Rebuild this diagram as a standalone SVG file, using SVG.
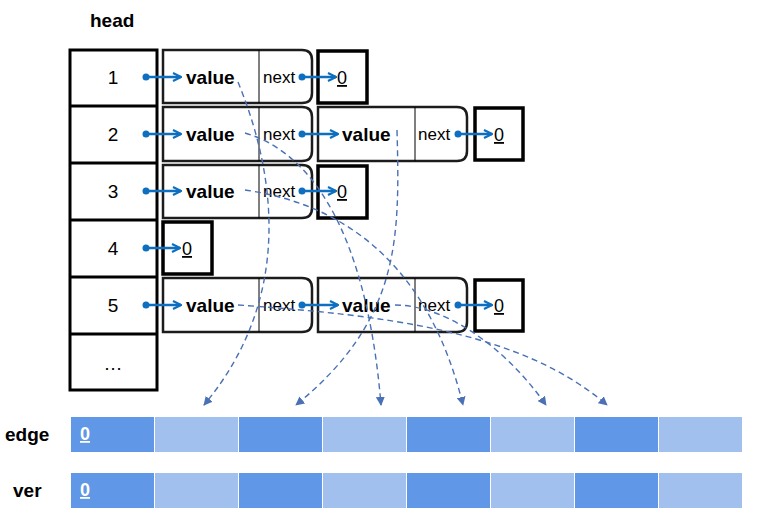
<svg xmlns="http://www.w3.org/2000/svg" width="766" height="529" viewBox="0 0 766 529">
<defs>
<marker id="bl" viewBox="0 0 10 10" refX="9" refY="5" markerWidth="10" markerHeight="10" markerUnits="userSpaceOnUse" orient="auto">
<path d="M1,1 L9,5 L1,9" fill="none" stroke="#0E6FC0" stroke-width="2.2"/>
</marker>
<marker id="da" viewBox="0 0 10 10" refX="9" refY="5" markerWidth="9" markerHeight="9" markerUnits="userSpaceOnUse" orient="auto">
<path d="M0,0 L10,5 L0,10 Z" fill="#4A70B5"/>
</marker>
</defs>
<style>
text{font-family:"Liberation Sans",Arial,sans-serif}
.num{font-size:19px;fill:#000;text-anchor:middle}
.val{font-size:19px;font-weight:bold;fill:#000}
.nx{font-size:17px;fill:#000}
.z{font-size:18px;fill:#000;text-decoration:underline}
.lbl{font-size:19px;font-weight:bold;fill:#000}
.node{fill:#fff;stroke:#1c1c1c;stroke-width:2.5}
.zb{fill:#fff;stroke:#000;stroke-width:3.5}
.div{stroke:#000;stroke-width:1}
.hd{fill:#fff;stroke:#000;stroke-width:3}
.ptr{stroke:#0E6FC0;stroke-width:2.5;fill:none;marker-end:url(#bl)}
.dot{fill:#0E6FC0}
.dash{fill:none;stroke:#4A70B5;stroke-width:1.4;stroke-dasharray:6,4;marker-end:url(#da)}
.dk{fill:#6097E6}
.lt{fill:#A1C0EE}
.w{font-size:18px;font-weight:bold;fill:#fff;text-decoration:underline}
</style>
<rect width="766" height="529" fill="#fff"/>
<text class="lbl" x="90" y="27">head</text>
<g id="head">
<rect class="hd" x="70" y="50" width="87" height="340"/>
<line class="hd" x1="70" y1="106" x2="157" y2="106"/>
<line class="hd" x1="70" y1="163" x2="157" y2="163"/>
<line class="hd" x1="70" y1="220" x2="157" y2="220"/>
<line class="hd" x1="70" y1="277" x2="157" y2="277"/>
<line class="hd" x1="70" y1="334" x2="157" y2="334"/>
<text class="num" x="113" y="84">1</text>
<text class="num" x="113" y="141">2</text>
<text class="num" x="113" y="198">3</text>
<text class="num" x="113" y="255">4</text>
<text class="num" x="113" y="312">5</text>
<text class="num" x="113" y="370">…</text>
</g>
<g id="n1">
<path class="node" d="M163,50 H302 Q312,50 312,60 V93 Q312,103 302,103 H163 Z"/>
<line class="div" x1="259" y1="50" x2="259" y2="103"/>
<text class="val" x="186" y="84">value</text>
<text class="nx" x="263" y="83">next</text>
</g>
<g id="z1"><rect class="zb" x="318" y="51" width="49" height="52"/><text class="z" x="337" y="84">0</text></g>
<g id="n2">
<path class="node" d="M163,107 H302 Q312,107 312,117 V151 Q312,161 302,161 H163 Z"/>
<line class="div" x1="259" y1="107" x2="259" y2="161"/>
<text class="val" x="186" y="141">value</text>
<text class="nx" x="263" y="140">next</text>
</g>
<g id="n2b">
<path class="node" d="M318,107 H457 Q467,107 467,117 V151 Q467,161 457,161 H318 Z"/>
<line class="div" x1="415" y1="107" x2="415" y2="161"/>
<text class="val" x="342" y="141">value</text>
<text class="nx" x="418" y="140">next</text>
</g>
<g id="z2"><rect class="zb" x="475" y="108" width="48" height="52"/><text class="z" x="494" y="141">0</text></g>
<g id="n3">
<path class="node" d="M163,165 H302 Q312,165 312,175 V208 Q312,218 302,218 H163 Z"/>
<line class="div" x1="259" y1="165" x2="259" y2="218"/>
<text class="val" x="186" y="198">value</text>
<text class="nx" x="263" y="197">next</text>
</g>
<g id="z3"><rect class="zb" x="318" y="166" width="49" height="52"/><text class="z" x="337" y="198">0</text></g>
<g id="z4"><rect class="zb" x="163" y="222" width="49" height="52"/><text class="z" x="182" y="255">0</text></g>
<g id="n5">
<path class="node" d="M163,278 H302 Q312,278 312,288 V322 Q312,332 302,332 H163 Z"/>
<line class="div" x1="259" y1="278" x2="259" y2="332"/>
<text class="val" x="186" y="312">value</text>
<text class="nx" x="263" y="311">next</text>
</g>
<g id="n5b">
<path class="node" d="M318,278 H457 Q467,278 467,288 V322 Q467,332 457,332 H318 Z"/>
<line class="div" x1="415" y1="278" x2="415" y2="332"/>
<text class="val" x="342" y="312">value</text>
<text class="nx" x="418" y="311">next</text>
</g>
<g id="z5"><rect class="zb" x="475" y="280" width="48" height="51"/><text class="z" x="494" y="312">0</text></g>
<g id="connectors">
<circle class="dot" cx="146" cy="77" r="3.5"/><line class="ptr" x1="146" y1="77" x2="181" y2="77"/>
<circle class="dot" cx="302" cy="77" r="3.5"/><line class="ptr" x1="302" y1="77" x2="336" y2="77"/>
<circle class="dot" cx="146" cy="134" r="3.5"/><line class="ptr" x1="146" y1="134" x2="181" y2="134"/>
<circle class="dot" cx="302" cy="134" r="3.5"/><line class="ptr" x1="302" y1="134" x2="338" y2="134"/>
<circle class="dot" cx="458" cy="134" r="3.5"/><line class="ptr" x1="458" y1="134" x2="492" y2="134"/>
<circle class="dot" cx="146" cy="191" r="3.5"/><line class="ptr" x1="146" y1="191" x2="181" y2="191"/>
<circle class="dot" cx="302" cy="191" r="3.5"/><line class="ptr" x1="302" y1="191" x2="336" y2="191"/>
<circle class="dot" cx="146" cy="248" r="3.5"/><line class="ptr" x1="146" y1="248" x2="180" y2="248"/>
<circle class="dot" cx="146" cy="305" r="3.5"/><line class="ptr" x1="146" y1="305" x2="181" y2="305"/>
<circle class="dot" cx="302" cy="305" r="3.5"/><line class="ptr" x1="302" y1="305" x2="338" y2="305"/>
<circle class="dot" cx="458" cy="305" r="3.5"/><line class="ptr" x1="458" y1="305" x2="492" y2="305"/>
<path class="dash" d="M238,82 C270,160 300,290 204,405"/>
<path class="dash" d="M245,133 C330,158 370,270 381,405"/>
<path class="dash" d="M245,190 C350,205 430,270 463,405"/>
<path class="dash" d="M397,130 C400,240 400,320 296,405"/>
<path class="dash" d="M238,305 C380,315 520,330 607,405"/>
<path class="dash" d="M395,305 C440,305 500,340 546,405"/>
</g>
<g id="edge">
<text class="lbl" x="5" y="441">edge</text>
<rect class="dk" x="71" y="417" width="83" height="35"/>
<rect class="lt" x="155" y="417" width="83" height="35"/>
<rect class="dk" x="239" y="417" width="83" height="35"/>
<rect class="lt" x="323" y="417" width="83" height="35"/>
<rect class="dk" x="407" y="417" width="83" height="35"/>
<rect class="lt" x="491" y="417" width="83" height="35"/>
<rect class="dk" x="575" y="417" width="83" height="35"/>
<rect class="lt" x="659" y="417" width="83" height="35"/>
<text class="w" x="80" y="440">0</text>
</g>
<g id="ver">
<text class="lbl" x="13" y="497">ver</text>
<rect class="dk" x="71" y="473" width="83" height="35"/>
<rect class="lt" x="155" y="473" width="83" height="35"/>
<rect class="dk" x="239" y="473" width="83" height="35"/>
<rect class="lt" x="323" y="473" width="83" height="35"/>
<rect class="dk" x="407" y="473" width="83" height="35"/>
<rect class="lt" x="491" y="473" width="83" height="35"/>
<rect class="dk" x="575" y="473" width="83" height="35"/>
<rect class="lt" x="659" y="473" width="83" height="35"/>
<text class="w" x="80" y="496">0</text>
</g>
</svg>
